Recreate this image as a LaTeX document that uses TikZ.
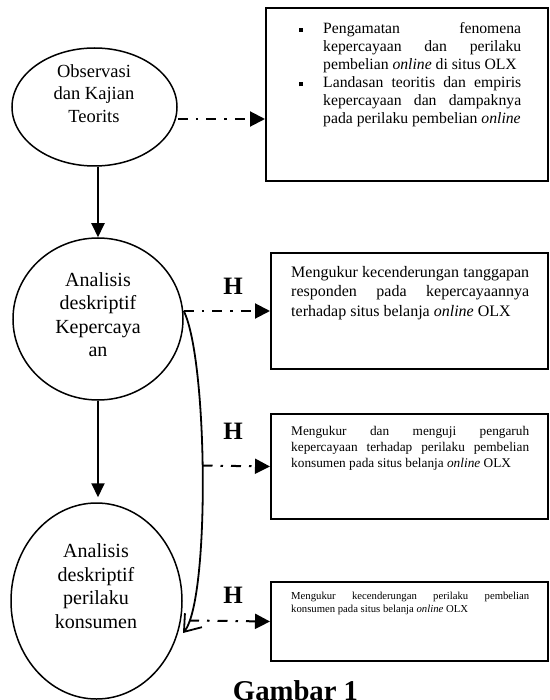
\documentclass[tikz,border=0pt]{standalone}
\usepackage{fontspec}
\setmainfont{Liberation Serif}
\usetikzlibrary{shapes.geometric,arrows.meta}
\setlength{\parindent}{0pt}
\newcommand{\jl}[1]{\hbox to\hsize{\spaceskip=0pt\xspaceskip=0pt\relax #1}\par}
\newcommand{\nl}[1]{\hbox{\spaceskip=0pt\xspaceskip=0pt\relax #1}\par}
\newcommand{\sqbullet}{\llap{\rule[1.5pt]{4pt}{4pt}\hspace{20.5pt}}}
\begin{document}
\begin{tikzpicture}[x=1pt,y=-1pt,
  oval/.style={ellipse,draw,line width=1.5pt,inner sep=0pt},
  boxnode/.style={rectangle,draw,line width=2pt,inner sep=0pt,anchor=north west},
  lbl/.style={inner sep=0pt,anchor=base,align=center},
  boxtext/.style={inner sep=0pt,anchor=base west,text width=#1},
  hlabel/.style={inner sep=0pt,font=\fontsize{25}{25}\selectfont\bfseries},
  flow/.style={line width=2pt,-{Triangle[length=14pt,width=13pt]}},
  dda/.style={line width=2pt,dash pattern=on 10pt off 8pt on 2.5pt off 8pt,-{Triangle[length=15pt,width=15pt]}},
  curv/.style={line width=1.8pt,-{Straight Barb[length=15pt,width=22pt]}}
]
\path[use as bounding box,fill=white] (0,0) rectangle (549,700);

% ellipses
\node[oval,minimum width=165pt,minimum height=118pt] (e1) at (94.5,107) {};
\node[oval,minimum width=170pt,minimum height=162pt] (e2) at (98,319) {};
\node[oval,minimum width=171pt,minimum height=196pt] (e3) at (96.5,601) {};

% (base anchor of a multi-line centred node = baseline of its last line)
\node[lbl,font=\fontsize{18.5}{22.5}\selectfont] (t1) at (94,122.5) {Observasi\\dan Kajian\\Teorits};
\node[lbl,font=\fontsize{20}{23.6}\selectfont] (t2) at (98,356.8) {Analisis\\deskriptif\\Kepercaya\\an};
\node[lbl,font=\fontsize{20}{23.6}\selectfont] (t3) at (96,628.3) {Analisis\\deskriptif\\perilaku\\konsumen};

% boxes
\node[boxnode,minimum width=282pt,minimum height=173pt] (b1) at (265,7) {};
\node[boxnode,minimum width=277pt,minimum height=116pt] (b2) at (270,252) {};
\node[boxnode,minimum width=277pt,minimum height=105pt] (b3) at (270,413) {};
\node[boxnode,minimum width=277pt,minimum height=79pt] (b4) at (270,581) {};

\node[boxtext=198pt,font=\fontsize{15.7}{18.1}\selectfont] (bt1) at (323,33.5) {%
\jl{\sqbullet Pengamatan fenomena}%
\jl{kepercayaan dan perilaku}%
\nl{pembelian \textit{online} di situs OLX}%
\jl{\sqbullet Landasan teoritis dan empiris}%
\jl{kepercayaan dan dampaknya}%
\nl{pada perilaku pembelian \textit{online}}};

\node[boxtext=238pt,font=\fontsize{16}{19.7}\selectfont] (bt2) at (291,277) {%
\jl{Mengukur kecenderungan tanggapan}%
\jl{responden pada kepercayaannya}%
\nl{terhadap situs belanja \textit{online} OLX}};

\node[boxtext=238pt,font=\fontsize{13.3}{15.7}\selectfont] (bt3) at (291,435.7) {%
\jl{Mengukur dan menguji pengaruh}%
\jl{kepercayaan terhadap perilaku pembelian}%
\nl{konsumen pada situs belanja \textit{online} OLX}};

\node[boxtext=238pt,font=\fontsize{10.7}{12.7}\selectfont] (bt4) at (291,599.7) {%
\jl{Mengukur kecenderungan perilaku pembelian}%
\nl{konsumen pada situs belanja \textit{online} OLX}};

% H labels
\node[hlabel] (h1) at (233,286) {H};
\node[hlabel] (h2) at (233,431) {H};
\node[hlabel] (h3) at (233,595) {H};

% caption
\node[inner sep=0pt,anchor=base,font=\fontsize{28.7}{30}\selectfont\bfseries] (cap) at (295.5,700) {Gambar 1};

% connectors
\draw[flow] (e2.north |- e1.south) -- (e2.north);
\coordinate (e3top) at ([yshift=5pt]e3.north);
\draw[flow] (e2.south) -- (e2.south |- e3top);

\coordinate (a1s) at ([yshift=-12pt]e1.east);
\draw[dda] (a1s) -- (a1s -| b1.west);

\coordinate (j2) at (e2.east |- b2.west);
\draw[dda] (j2) -- (b2.west);

\coordinate (ce) at (183,633);
\draw[curv] (j2) .. controls (208,360) and (210,600) .. (ce);

\coordinate (c3) at (202.5,465.5);
\draw[dda] (c3) -- (b3.west);
\coordinate (c4) at (189,620.5);
\draw[dda] (c4) -- (b4.west);
\end{tikzpicture}
\end{document}
